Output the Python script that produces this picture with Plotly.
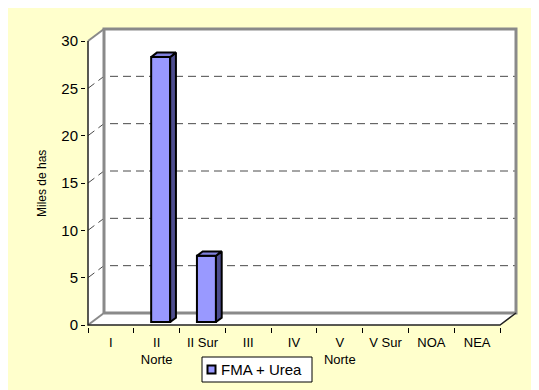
import plotly.graph_objects as go

# ---- data ----
categories = ["I", "II<br>Norte", "II Sur", "III", "IV", "V<br>Norte", "V Sur", "NOA", "NEA"]
fma_urea = [0, 28, 7, 0, 0, 0, 0, 0, 0]
y_ticks = [0, 5, 10, 15, 20, 25, 30]
series_name = "FMA + Urea"
y_title = "Miles de has"
bar_color = "#9999FF"

# ---- layout geometry (pixels, reference coordinates) ----
OFF = 8                  # page body margin of the html page
W, H = 539 - OFF, 390 - OFF
def P(p):
    return p - OFF       # reference pixel -> figure pixel

px_x0 = P(88)            # pixel of x=0 (front-left corner)
y_px0 = P(325)           # pixel of y=0 at the front
kx = 412 / 9             # px per category
ky = 284 / 30            # px per y unit
L = P(86)
R = W - P(518)
T = P(27)
B = H - P(327)
plot_w = W - L - R
plot_h = H - T - B
xr0 = -(px_x0 - L) / kx
xr = [xr0, xr0 + plot_w / kx]
yr0 = -((H - B) - y_px0) / ky
yr = [yr0, yr0 + plot_h / ky]

n = len(categories)
ymax = max(y_ticks)
DX = 16 / kx        # 3D depth offset in x units
DY = 12 / ky        # 3D depth offset in y units
f_front = 0.25
bdx, bdy = 0.36 * DX, 0.36 * DY
bar_w = 19 / kx
base = f_front * DY

FONT = "Liberation Sans, Arial, sans-serif"
fig = go.Figure()

def pxx(p):
    return (P(p) - L) / plot_w
def pxy(p):
    return ((H - B) - P(p)) / plot_h

shapes = []
# outer frame (paper coords)
shapes.append(dict(type="rect", xref="paper", yref="paper", layer="below",
                   x0=pxx(5), y0=pxy(7), x1=pxx(560), y1=pxy(410),
                   fillcolor="#FFFFCC", line=dict(color="#333333", width=2)))

def path(pts):
    return "M " + " L ".join(f"{x},{y}" for x, y in pts) + " Z"

def line_path(pts):
    return "M " + " L ".join(f"{x},{y}" for x, y in pts)

# walls
back = [(DX, DY), (n + DX, DY), (n + DX, ymax + DY), (DX, ymax + DY)]
left = [(0, 0), (DX, DY), (DX, ymax + DY), (0, ymax)]
floor = [(0, 0), (n, 0), (n + DX, DY), (DX, DY)]
for poly in (left, floor, back):
    shapes.append(dict(type="path", xref="x", yref="y", layer="below", path=path(poly),
                       fillcolor="white", line=dict(width=0)))
# gridlines
for v in y_ticks[1:-1]:
    shapes.append(dict(type="path", xref="x", yref="y", layer="below",
                       path=line_path([(0, v), (DX, v + DY), (n + DX, v + DY)]),
                       line=dict(color="#4a4a4a", width=1, dash="8px,5px")))
# wall edges
shapes.append(dict(type="path", xref="x", yref="y", layer="below",
                   path=line_path([(DX, DY), (n + DX, DY), (n + DX, ymax + DY), (DX, ymax + DY), (DX, DY)]),
                   line=dict(color="#8a8a8a", width=3)))
shapes.append(dict(type="path", xref="x", yref="y", layer="below",
                   path=line_path([(0, ymax), (DX, ymax + DY)]),
                   line=dict(color="#8a8a8a", width=2)))
shapes.append(dict(type="path", xref="x", yref="y", layer="below",
                   path=line_path([(0, 0), (DX, DY)]),
                   line=dict(color="#8a8a8a", width=2)))
shapes.append(dict(type="path", xref="x", yref="y", layer="below",
                   path=line_path([(0, ymax), (0, 0), (n, 0), (n + DX, DY)]),
                   line=dict(color="#222222", width=1.5)))

# legend box (compact, Excel style)
shapes.append(dict(type="rect", xref="paper", yref="paper", layer="above",
                   x0=pxx(202), x1=pxx(312), y0=pxy(357), y1=pxy(382),
                   fillcolor="white", line=dict(color="black", width=1)))
shapes.append(dict(type="rect", xref="paper", yref="paper", layer="above",
                   x0=pxx(207.5), x1=pxx(215.5), y0=pxy(365.5), y1=pxy(373.5),
                   fillcolor=bar_color, line=dict(color="black", width=2)))

# bars: front face (zero values are not drawn)
centers = [i + 0.5 + f_front * DX for i in range(n)]
bar_vals = [v if v > 0 else None for v in fma_urea]
fig.add_trace(go.Bar(x=centers, y=bar_vals, base=base, width=bar_w, name=series_name,
                     marker=dict(color=bar_color, line=dict(color="black", width=2)),
                     showlegend=False))
# side and top faces
for c, v in zip(centers, fma_urea):
    if v <= 0:
        continue
    xl, xrr = c - bar_w / 2, c + bar_w / 2
    side = [(xrr, base), (xrr + bdx, base + bdy), (xrr + bdx, base + v + bdy), (xrr, base + v), (xrr, base)]
    top = [(xl, base + v), (xl + bdx, base + v + bdy), (xrr + bdx, base + v + bdy), (xrr, base + v), (xl, base + v)]
    for poly, col in ((side, "#4D4D8F"), (top, "#8080DD")):
        fig.add_trace(go.Scatter(x=[p[0] for p in poly], y=[p[1] for p in poly], mode="lines",
                                 fill="toself", fillcolor=col, line=dict(color="black", width=2),
                                 showlegend=False, hoverinfo="skip"))

fig.update_layout(
    width=W, height=H,
    margin=dict(l=L, r=R, t=T, b=B, autoexpand=False),
    paper_bgcolor="white", plot_bgcolor="rgba(0,0,0,0)",
    font=dict(family=FONT, color="black"),
    shapes=shapes,
    showlegend=False,
    xaxis=dict(range=xr, tickvals=list(range(n + 1)), showticklabels=False,
               ticks="outside", ticklen=5, tickcolor="black", showgrid=False,
               zeroline=False, showline=False, fixedrange=True),
    xaxis2=dict(range=xr, overlaying="x", anchor="y", side="bottom",
                tickvals=[i + 0.5 for i in range(n)], ticktext=categories,
                ticks="", showgrid=False, zeroline=False, showline=False,
                tickfont=dict(size=13, family=FONT), ticklabelstandoff=6),
    yaxis=dict(range=yr, tickvals=y_ticks, ticks="outside", ticklen=4, tickcolor="black",
               showgrid=False, zeroline=False, showline=False,
               tickfont=dict(size=15, family=FONT)),
    annotations=[
        dict(text=y_title, xref="paper", yref="paper", x=pxx(42), y=pxy(184),
             textangle=-90, showarrow=False, font=dict(size=12, family=FONT),
             xanchor="center", yanchor="middle"),
        dict(text=series_name, xref="paper", yref="paper", x=pxx(219), y=pxy(369.5),
             showarrow=False, font=dict(size=15, family=FONT),
             xanchor="left", yanchor="middle"),
    ],
)
# invisible trace to activate xaxis2 (category labels)
fig.add_trace(go.Scatter(x=[0.5], y=[0], xaxis="x2", mode="markers",
                         marker=dict(opacity=0), showlegend=False, hoverinfo="skip"))

fig.write_html("out.html")
